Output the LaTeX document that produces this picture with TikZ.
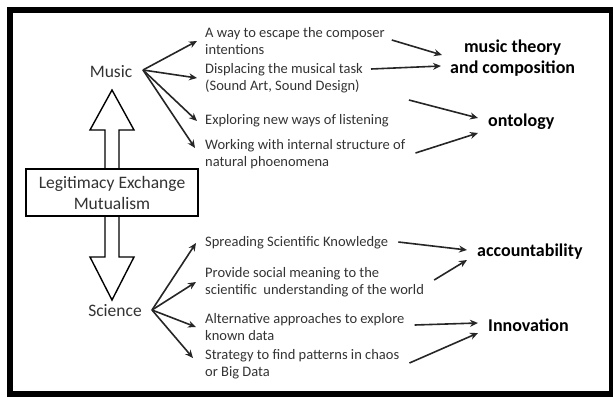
\documentclass[tikz,border=0pt]{standalone}
\usepackage{fontspec}
\setmainfont{Carlito}
\usetikzlibrary{calc,arrows.meta}

\tikzset{
  item/.style={anchor=west, align=left, inner sep=0pt, text=black!80,
    font=\fontsize{14.5}{16.8}\selectfont},
  goal/.style={anchor=west, align=center, inner sep=0pt,
    font=\fontsize{18}{20.5}\selectfont\bfseries},
  side/.style={inner sep=0pt, text=black!80, font=\fontsize{17.5}{21}\selectfont},
  link/.style={-{Stealth[length=8pt,width=7pt]}, line width=1.6pt, black!85},
}

\begin{document}
\begin{tikzpicture}[x=1pt,y=-1pt]

\useasboundingbox (0,0) rectangle (613,397);
\draw[line width=6pt] (10,10) rectangle (612,394);

\node[side] (music) at (111,72) {Music};
\node[side] (science) at (115,311) {Science};
\coordinate (mfan) at (143,70);
\coordinate (sfan) at (152,310);

\draw[line width=1.4pt, fill=white] (112,90) -- (134,130) -- (119,130) -- (119,257)
  -- (134,257) -- (112,300) -- (90,257) -- (105,257) -- (105,130) -- (90,130) -- cycle;
\node[side, draw=black, line width=1.4pt, fill=white, minimum width=172pt,
  minimum height=47pt, align=center] (legit) at (112,192.5)
  {Legitimacy Exchange\\Mutualism};

\node[item] (m1) at (205,41) {A way to escape the composer\\intentions};
\node[item] (m2) at (205,78) {Displacing the musical task\\(Sound Art, Sound Design)};
\node[item] (m3) at (205,121) {Exploring new ways of listening};
\node[item] (m4) at (205,154) {Working with internal structure of\\natural phoenomena};

\node[item] (s1) at (205,243) {Spreading Scientific Knowledge};
\node[item] (s2) at (205,282) {Provide social meaning to the\\ scientific\ \ understanding of the world};
\node[item] (s3) at (205,327) {Alternative approaches to explore\\known data};
\node[item] (s4) at (205,364) {Strategy to find patterns in chaos\\ or Big Data};

\node[goal] (theory) at (450,58) {music theory\\and composition};
\node[goal] (onto) at (488,122) {ontology};
\node[goal] (account) at (477,252) {accountability};
\node[goal] (innov) at (488,325) {Innovation};

\draw[link] (mfan) -- ([xshift=-8]m1.west);
\draw[link] (mfan) -- ([xshift=-8]m2.west);
\draw[link] (mfan) -- ([xshift=-8]m3.west);
\draw[link] (mfan) -- ([shift={(-10,-6)}]m4.west);

\draw[link] (sfan) -- ([xshift=-9]s1.west);
\draw[link] (sfan) -- ([xshift=-9]s2.west);
\draw[link] (sfan) -- ([xshift=-9]s3.west);
\draw[link] (sfan) -- ([shift={(-12,-6)}]s4.west);

\draw[link] ([shift={(7,-1)}]m1.east) -- ([shift={(-8,-3)}]theory.west);
\draw[link] ([shift={(8,-9)}]m2.east) -- ([shift={(-9,8)}]theory.west);
\draw[link] ([shift={(20,-21)}]m3.east) -- ([shift={(-10,-4)}]onto.west);
\draw[link] ([shift={(10,-1)}]m4.east) -- ([shift={(-10,11)}]onto.west);

\draw[link] ([shift={(10,-1)}]s1.east) -- ([shift={(-10,-2)}]account.west);
\draw[link] ([shift={(10,-2)}]s2.east) -- ([shift={(-10,8)}]account.west);
\draw[link] ([shift={(10,-2)}]s3.east) -- ([shift={(-10,-2)}]innov.west);
\draw[link] ([shift={(10,-1)}]s4.east) -- ([shift={(-10,8)}]innov.west);

\end{tikzpicture}
\end{document}
